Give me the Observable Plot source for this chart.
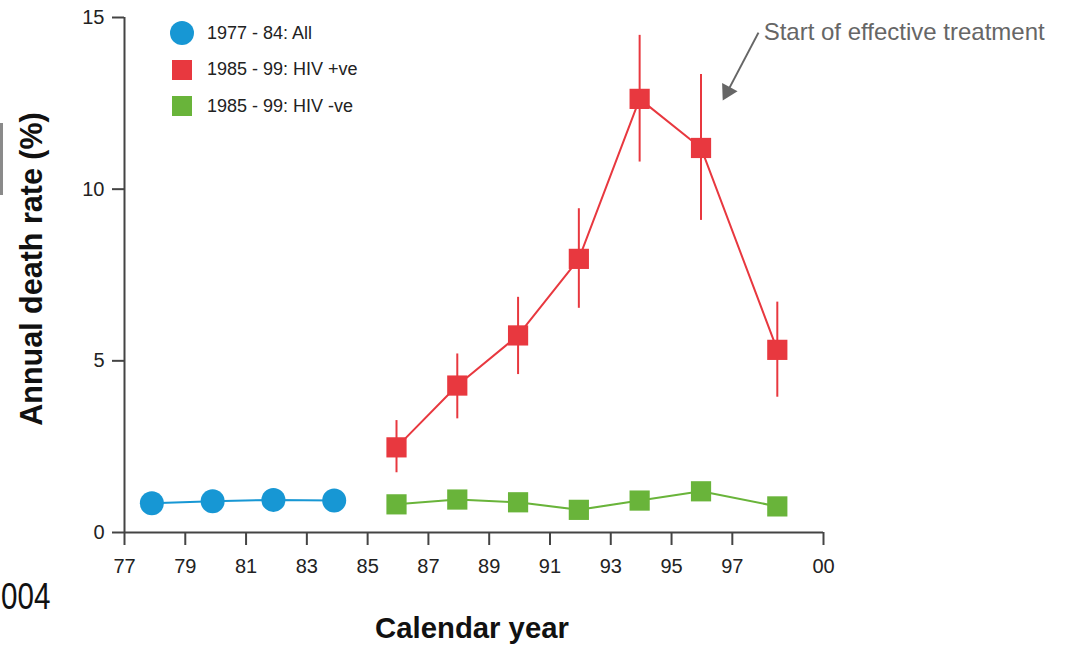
<!DOCTYPE html>
<html>
<head>
<meta charset="utf-8">
<script src="https://cdn.jsdelivr.net/npm/d3@7"></script>
<script src="https://cdn.jsdelivr.net/npm/@observablehq/plot@0.6"></script>
<style>
  html, body { margin: 0; padding: 0; background: #fff; }
  #wrap { position: relative; width: 1068px; height: 652px; overflow: hidden; font-family: "Liberation Sans", Arial, sans-serif; }
  #chart { position: absolute; left: 0; top: 0; }
  #legend { position: absolute; left: 170px; top: 15px; }
  .lg-row { display: flex; align-items: center; height: 36.5px; }
  .lg-mark { width: 24px; display: flex; justify-content: center; align-items: center; margin-right: 13px; }
  .lg-text { font-size: 18px; color: #222; white-space: nowrap; }
  #corner { position: absolute; left: 1px; top: 576px; font-size: 37px; color: #111; transform: scaleX(0.8); transform-origin: left top; font-family: "Liberation Sans", Arial, sans-serif; }
  #edge { position: absolute; left: 0; top: 123px; width: 3px; height: 72px; background: #8a8a8a; }
</style>
</head>
<body>
<div id="wrap">
  <div id="chart"></div>
  <div id="legend"></div>
  <div id="corner">004</div>
  <div id="edge"></div>
</div>
<script>
// ---- data ----
const allYears = [77.9, 79.9, 81.9, 83.9];
const allRate = [0.85, 0.91, 0.95, 0.93];

const hivYears = [85.95, 87.95, 89.95, 91.95, 93.95, 95.97, 98.48];
const hivPosRate = [2.48, 4.28, 5.74, 7.97, 12.63, 11.2, 5.32];
const hivPosLo = [1.74, 3.31, 4.6, 6.53, 10.79, 9.09, 3.94];
const hivPosHi = [3.26, 5.2, 6.85, 9.43, 14.48, 13.34, 6.71];
const hivNegRate = [0.82, 0.96, 0.88, 0.66, 0.93, 1.2, 0.76];

const xTicks = [77, 79, 81, 83, 85, 87, 89, 91, 93, 95, 97, 100];
const xTickLabels = ["77", "79", "81", "83", "85", "87", "89", "91", "93", "95", "97", "00"];
const yTicks = [0, 5, 10, 15];

const seriesNames = ["1977 - 84: All", "1985 - 99: HIV +ve", "1985 - 99: HIV -ve"];
const seriesColors = ["#1797d4", "#e8383f", "#69b43a"];
const seriesShapes = ["circle", "square", "square"];

const annotationText = "Start of effective treatment";
const annotationAt = {x: 98.03, y: 14.56};
const arrowFrom = {x: 97.86, y: 14.56};
const arrowTo = {x: 96.84, y: 12.84};

// ---- tables ----
const allData = allYears.map((x, i) => ({x, y: allRate[i]}));
const posData = hivYears.map((x, i) => ({x, y: hivPosRate[i], lo: hivPosLo[i], hi: hivPosHi[i]}));
const negData = hivYears.map((x, i) => ({x, y: hivNegRate[i]}));

const axisColor = "#444";
const font = "'Liberation Sans', Arial, sans-serif";

const chart = Plot.plot({
  width: 1068,
  height: 652,
  marginLeft: 124,
  marginRight: 245,
  marginTop: 17,
  marginBottom: 120,
  x: {domain: [77, 100]},
  y: {domain: [0, 15]},
  style: {fontFamily: font, fontSize: "20px", color: "#222", background: "transparent", overflow: "visible"},
  marks: [
    Plot.axisX({ticks: xTicks, tickFormat: d => xTickLabels[xTicks.indexOf(d)], tickSize: 13, tickPadding: 13, stroke: axisColor, strokeWidth: 2, fontSize: 20, fill: "#222", label: null}),
    Plot.axisY({ticks: yTicks, tickSize: 12, tickPadding: 8, stroke: axisColor, strokeWidth: 2, fontSize: 20, fill: "#222", label: null}),
    Plot.ruleX([77], {stroke: axisColor, strokeWidth: 2}),
    Plot.ruleY([0], {stroke: axisColor, strokeWidth: 2}),
    // axis titles
    Plot.text(["Calendar year"], {frameAnchor: "bottom", dx: -2, dy: 96, lineAnchor: "middle", textAnchor: "middle", fontSize: 29.3, fontWeight: "bold", fill: "#111"}),
    Plot.text(["Annual death rate (%)"], {frameAnchor: "left", rotate: -90, dx: -92, dy: -6, lineAnchor: "middle", textAnchor: "middle", fontSize: 30.5, fontWeight: "bold", fill: "#111"}),
    // series: all
    Plot.line(allData, {x: "x", y: "y", stroke: seriesColors[0], strokeWidth: 2}),
    Plot.dot(allData, {x: "x", y: "y", r: 12, fill: seriesColors[0], symbol: "circle"}),
    // series: HIV +ve
    Plot.line(posData, {x: "x", y: "y", stroke: seriesColors[1], strokeWidth: 2}),
    Plot.ruleX(posData, {x: "x", y1: "lo", y2: "hi", stroke: seriesColors[1], strokeWidth: 2}),
    Plot.dot(posData, {x: "x", y: "y", r: 11.4, fill: seriesColors[1], symbol: "square"}),
    // series: HIV -ve
    Plot.line(negData, {x: "x", y: "y", stroke: seriesColors[2], strokeWidth: 2}),
    Plot.dot(negData, {x: "x", y: "y", r: 11.4, fill: seriesColors[2], symbol: "square"}),
    // annotation
    Plot.text([annotationText], {x: annotationAt.x, y: annotationAt.y, textAnchor: "start", lineAnchor: "middle", fontSize: 24, fill: "#666"}),
    Plot.link([0], {x1: arrowFrom.x, y1: arrowFrom.y, x2: arrowTo.x, y2: arrowTo.y, stroke: "#666", strokeWidth: 2}),
    Plot.dot([0], {x: arrowTo.x, y: arrowTo.y, symbol: "triangle", r: 6.5, fill: "#666", rotate: 208})
  ]
});
document.getElementById("chart").appendChild(chart);

// ---- legend ----
const legend = document.getElementById("legend");
seriesNames.forEach((name, i) => {
  const row = document.createElement("div");
  row.className = "lg-row";
  const mark = document.createElement("div");
  mark.className = "lg-mark";
  const sw = document.createElement("div");
  if (seriesShapes[i] === "circle") {
    sw.style.cssText = `width:24px;height:24px;border-radius:50%;background:${seriesColors[i]}`;
  } else {
    sw.style.cssText = `width:20px;height:20px;background:${seriesColors[i]}`;
  }
  mark.appendChild(sw);
  const txt = document.createElement("div");
  txt.className = "lg-text";
  txt.textContent = name;
  row.appendChild(mark);
  row.appendChild(txt);
  legend.appendChild(row);
});
</script>
</body>
</html>
